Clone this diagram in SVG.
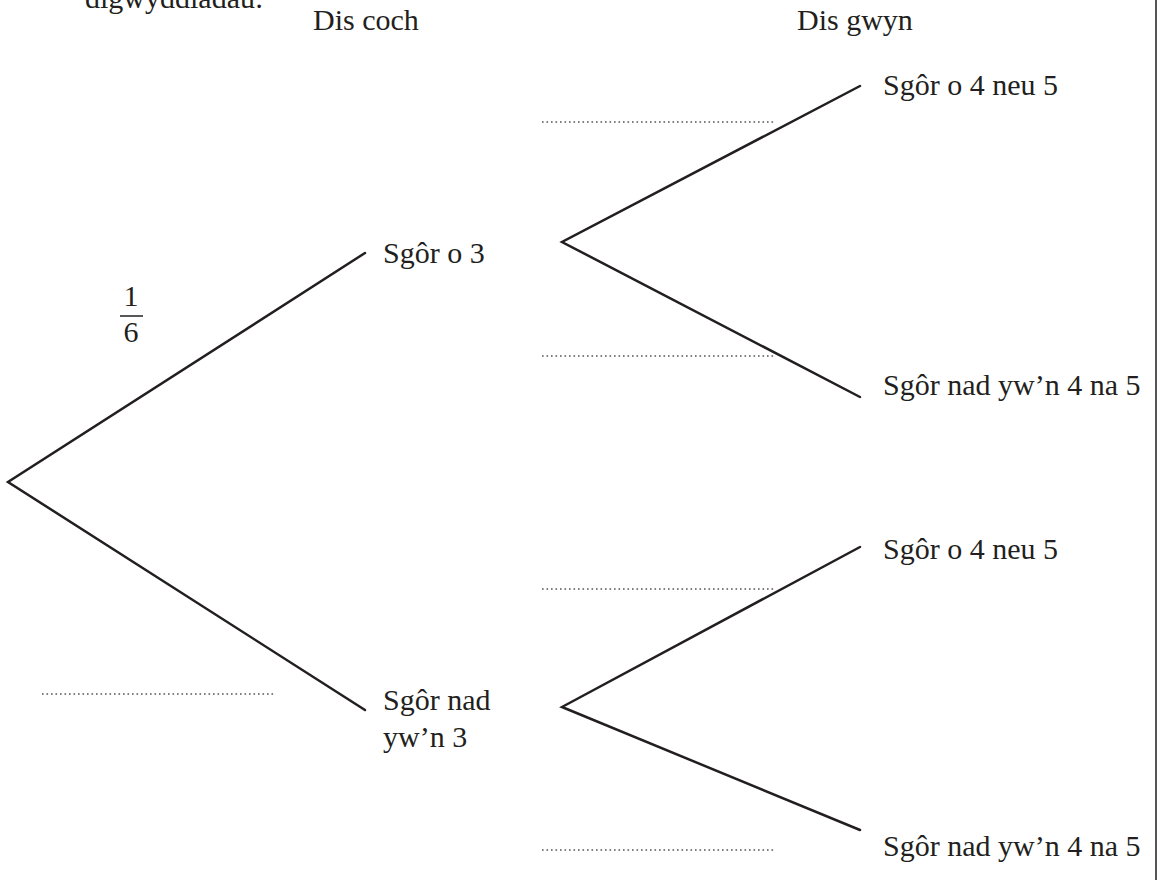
<svg xmlns="http://www.w3.org/2000/svg" width="1159" height="880" viewBox="0 0 1159 880">
<style>
.t{font-family:'Liberation Serif', Tinos, 'Times New Roman', 'DejaVu Serif', serif;font-size:30px;fill:#231f20}
.br{stroke:#231f20;stroke-width:2.5;fill:none;stroke-linecap:round}
.dot{stroke:#555;stroke-width:1.6;stroke-dasharray:1.6 2.9;fill:none}
</style>
<rect width="1159" height="880" fill="#fff"/>
<line x1="1156" y1="0" x2="1156" y2="880" stroke="#555" stroke-width="2"/>
<g class="t" font-family="Liberation Serif, serif">
<text x="85" y="8">digwyddiadau:</text>
<text x="313" y="30">Dis coch</text>
<text x="797" y="30">Dis gwyn</text>
</g>
<g id="connectors">
<polyline class="br" points="365,253 8,482 365,710"/>
<polyline class="br" points="860,86 562,242 860,397"/>
<polyline class="br" points="860,547 562,707 860,830"/>
</g>
<g id="answer-lines">
<line class="dot" x1="542" y1="122" x2="774" y2="122"/>
<line class="dot" x1="542" y1="356" x2="774" y2="356"/>
<line class="dot" x1="542" y1="589" x2="774" y2="589"/>
<line class="dot" x1="542" y1="850" x2="774" y2="850"/>
<line class="dot" x1="42" y1="694" x2="274" y2="694"/>
</g>
<g id="prob-1-6" class="t" font-family="Liberation Serif, serif">
<text x="131" y="306" text-anchor="middle">1</text>
<line x1="120" y1="316" x2="143" y2="316" stroke="#231f20" stroke-width="1.5"/>
<text x="131" y="342" text-anchor="middle">6</text>
</g>
<g id="node-red3" class="t" font-family="Liberation Serif, serif"><text x="383" y="263">Sgôr o 3</text></g>
<g id="node-rednot3" class="t" font-family="Liberation Serif, serif"><text x="383" y="710">Sgôr nad</text><text x="383" y="747">yw’n 3</text></g>
<g id="node-w1" class="t" font-family="Liberation Serif, serif"><text x="883" y="95">Sgôr o 4 neu 5</text></g>
<g id="node-w2" class="t" font-family="Liberation Serif, serif"><text x="883" y="395">Sgôr nad yw’n 4 na 5</text></g>
<g id="node-w3" class="t" font-family="Liberation Serif, serif"><text x="883" y="559">Sgôr o 4 neu 5</text></g>
<g id="node-w4" class="t" font-family="Liberation Serif, serif"><text x="883" y="856">Sgôr nad yw’n 4 na 5</text></g>
</svg>
